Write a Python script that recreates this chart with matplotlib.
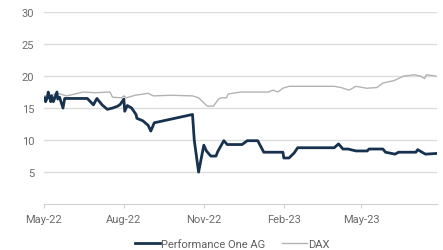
import matplotlib.pyplot as plt
import matplotlib.dates as mdates
import pandas as pd

# Performance One AG (Schlusskurse)
perf_dates = ["2022-05-02", "2022-05-03", "2022-05-05", "2022-05-06", "2022-05-09",
              "2022-05-10", "2022-05-12", "2022-05-16", "2022-05-17", "2022-05-19",
              "2022-05-23", "2022-05-25", "2022-06-20", "2022-06-27", "2022-07-01",
              "2022-07-07", "2022-07-13", "2022-07-19", "2022-07-25", "2022-07-28",
              "2022-08-01", "2022-08-02", "2022-08-05", "2022-08-10", "2022-08-15",
              "2022-08-16", "2022-08-23", "2022-08-29", "2022-09-01", "2022-09-05",
              "2022-10-19", "2022-10-21", "2022-10-26", "2022-11-01", "2022-11-04",
              "2022-11-09", "2022-11-15", "2022-11-17", "2022-11-24", "2022-11-28",
              "2022-12-15", "2022-12-21", "2023-01-02", "2023-01-09", "2023-01-31",
              "2023-02-01", "2023-02-07", "2023-02-13", "2023-02-17", "2023-03-31",
              "2023-04-05", "2023-04-10", "2023-04-16", "2023-04-25", "2023-05-08",
              "2023-05-10", "2023-05-26", "2023-05-29", "2023-06-09", "2023-06-13",
              "2023-07-03", "2023-07-05", "2023-07-10", "2023-07-14", "2023-07-26"]
perf_values = [16.6, 16.0, 16.6, 17.5, 16.0,
               16.9, 16.0, 17.5, 16.4, 16.7,
               15.0, 16.5, 16.5, 15.5, 16.5,
               15.5, 14.8, 15.0, 15.3, 15.6,
               16.4, 14.5, 15.4, 15.0, 14.0,
               13.4, 13.0, 12.3, 11.4, 12.7,
               14.0, 10.0, 5.0, 9.2, 8.3,
               7.5, 7.5, 8.2, 9.9, 9.3,
               9.3, 9.9, 9.9, 8.1, 8.1,
               7.2, 7.2, 8.0, 8.8, 8.8,
               9.4, 8.6, 8.6, 8.3, 8.3,
               8.6, 8.6, 8.1, 7.8, 8.1,
               8.1, 8.5, 8.1, 7.8, 7.9]

# DAX (auf Aktienkurs normiert)
dax_dates = ["2022-05-02", "2022-05-09", "2022-05-17", "2022-05-27", "2022-06-06",
             "2022-06-15", "2022-06-29", "2022-07-16", "2022-07-19", "2022-07-29",
             "2022-08-01", "2022-08-04", "2022-08-14", "2022-08-29", "2022-09-04",
             "2022-09-24", "2022-10-19", "2022-10-26", "2022-11-05", "2022-11-12",
             "2022-11-18", "2022-11-21", "2022-11-27", "2022-11-29", "2022-12-13",
             "2023-01-14", "2023-01-20", "2023-01-25", "2023-01-31", "2023-02-07",
             "2023-03-31", "2023-04-08", "2023-04-17", "2023-04-25", "2023-05-03",
             "2023-05-07", "2023-05-19", "2023-05-26", "2023-06-08", "2023-06-19",
             "2023-07-01", "2023-07-08", "2023-07-13", "2023-07-15", "2023-07-26"]
dax_values = [16.9, 17.0, 17.3, 16.9, 17.2,
              17.5, 17.4, 17.5, 16.7, 16.6,
              16.9, 16.6, 17.0, 17.3, 16.9,
              17.0, 16.9, 16.6, 15.3, 15.3,
              16.4, 16.6, 16.6, 17.2, 17.5,
              17.5, 17.8, 17.5, 18.1, 18.4,
              18.4, 18.2, 17.8, 18.4, 18.2,
              18.1, 18.2, 18.9, 19.3, 20.0,
              20.2, 20.0, 19.6, 20.2, 20.0]

yticks = [5, 10, 15, 20, 25, 30]
xtick_dates = ["2022-05-01", "2022-08-01", "2022-11-01", "2023-02-01", "2023-05-01"]

plt.rcParams['font.family'] = ['Roboto', 'DejaVu Sans']

fig = plt.figure(figsize=(4.43, 2.51), dpi=100)
ax = fig.add_axes([0.099, 0.183, 0.887, 0.765])

ax.plot(pd.to_datetime(perf_dates), perf_values, color='#17324f', lw=2,
        label='Performance One AG', zorder=3)
ax.plot(pd.to_datetime(dax_dates), dax_values, color='#b3b3b3', lw=1,
        label='DAX', zorder=2)

ax.set_ylim(0, 30)
ax.set_yticks(yticks)
ax.set_xlim(pd.Timestamp("2022-05-01"), pd.Timestamp("2023-07-27"))
ax.set_xticks(pd.to_datetime(xtick_dates))
ax.xaxis.set_major_formatter(mdates.DateFormatter('%b-%y'))

ax.grid(axis='y', color='#dcdcdc', lw=1)
ax.set_axisbelow(True)
for s in ['top', 'right', 'left']:
    ax.spines[s].set_visible(False)
ax.spines['bottom'].set_color('#d0d0d0')
ax.tick_params(axis='y', length=0, pad=7, labelsize=8, labelcolor='#6b6b6b')
ax.tick_params(axis='x', length=3, color='#d0d0d0', pad=4, labelsize=8,
               labelcolor='#6b6b6b')

fig.legend(loc='center', bbox_to_anchor=(0.524, 0.024), ncol=2, frameon=False,
           fontsize=8, handlelength=2.25, handletextpad=0.1, columnspacing=1.5,
           labelcolor='#5f5f5f', borderpad=0)

fig.savefig('out.png', dpi=100)
